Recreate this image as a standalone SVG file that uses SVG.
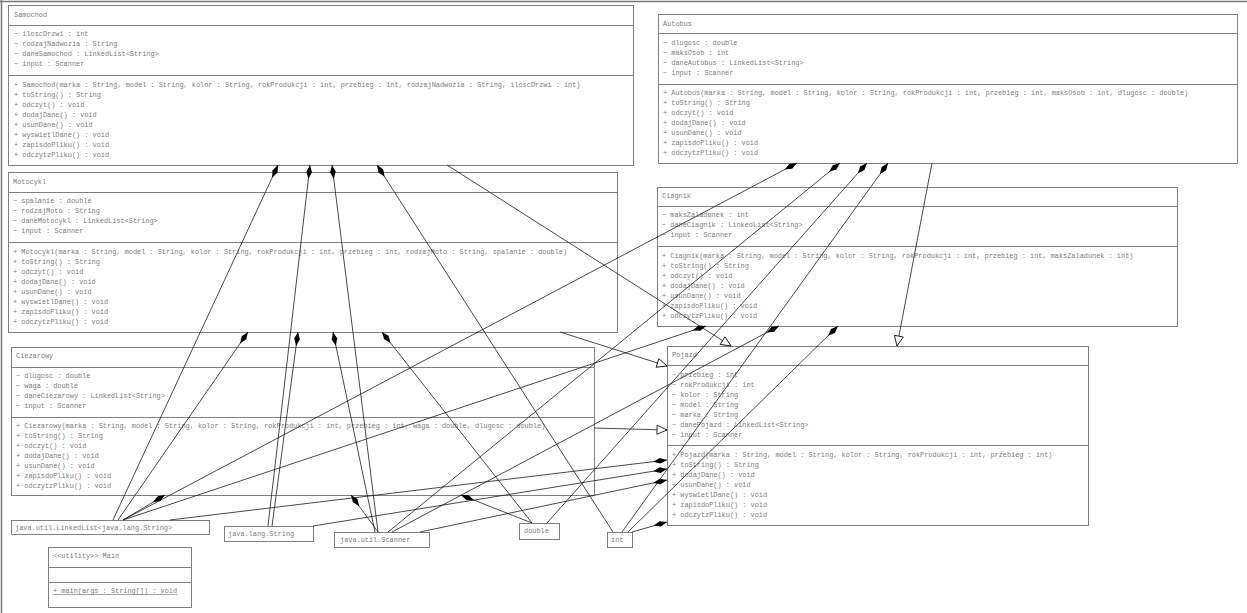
<svg xmlns="http://www.w3.org/2000/svg" width="1247" height="613" viewBox="0 0 1247 613">
  <style>
    .box { fill: #fff; stroke: #808080; stroke-width: 1; }
    .sep { stroke: #808080; stroke-width: 1; }
    .t { font-family: "Liberation Mono", "DejaVu Sans Mono", monospace; font-size: 6.9px; fill: #7c7c7c; }
    .u { text-decoration: underline; }
    .comp { fill: none; stroke: #1a1a1a; stroke-width: 0.8; marker-start: url(#diamond); }
    .gen { fill: none; stroke: #1a1a1a; stroke-width: 0.8; marker-end: url(#triangle); }
  </style>
  <defs>
    <!-- filled diamond at the owning class end -->
    <marker id="diamond" viewBox="-1 -4 16 8" refX="0" refY="0" markerWidth="16" markerHeight="8" markerUnits="userSpaceOnUse" orient="auto">
      <path d="M0,0 L7,-2.8 L14,0 L7,2.8 z" fill="#000"/>
    </marker>
    <!-- hollow triangle at the superclass end -->
    <marker id="triangle" viewBox="-1 -6 12 12" refX="10" refY="0" markerWidth="12" markerHeight="12" markerUnits="userSpaceOnUse" orient="auto">
      <path d="M0,-4.5 L10,0 L0,4.5 z" fill="#fff" stroke="#000" stroke-width="0.8"/>
    </marker>
  </defs>

  <rect width="1247" height="613" fill="#fff"/>
  <!-- canvas frame -->
  <line x1="0" y1="1.5" x2="1247" y2="1.5" stroke="#777" stroke-width="1.5"/>
  <line x1="1.5" y1="0" x2="1.5" y2="613" stroke="#777" stroke-width="1.5"/>

  <g id="samochod">
    <rect class="box" x="8.5" y="5.5" width="625" height="160"/>
    <line class="sep" x1="8.5" y1="25.5" x2="633.5" y2="25.5"/>
    <line class="sep" x1="8.5" y1="75.5" x2="633.5" y2="75.5"/>
    <text class="t" x="14" y="17">Samochod</text>
    <text class="t" x="14" y="36">~ iloscDrzwi : int</text>
    <text class="t" x="14" y="46">~ rodzajNadwozia : String</text>
    <text class="t" x="14" y="56">~ daneSamochod : LinkedList&lt;String&gt;</text>
    <text class="t" x="14" y="66">~ input : Scanner</text>
    <text class="t" x="14" y="87">+ Samochod(marka : String, model : String, kolor : String, rokProdukcji : int, przebieg : int, rodzajNadwozia : String, iloscDrzwi : int)</text>
    <text class="t" x="14" y="97">+ toString() : String</text>
    <text class="t" x="14" y="107">+ odczyt() : void</text>
    <text class="t" x="14" y="117">+ dodajDane() : void</text>
    <text class="t" x="14" y="127">+ usunDane() : void</text>
    <text class="t" x="14" y="137">+ wyswietlDane() : void</text>
    <text class="t" x="14" y="147">+ zapisdoPliku() : void</text>
    <text class="t" x="14" y="157">+ odczytzPliku() : void</text>
  </g>

  <g id="autobus">
    <rect class="box" x="658.5" y="14.5" width="579" height="149"/>
    <line class="sep" x1="658.5" y1="33.5" x2="1237.5" y2="33.5"/>
    <line class="sep" x1="658.5" y1="84.5" x2="1237.5" y2="84.5"/>
    <text class="t" x="663" y="26">Autobus</text>
    <text class="t" x="663" y="45">~ dlugosc : double</text>
    <text class="t" x="663" y="55">~ maksOsob : int</text>
    <text class="t" x="663" y="65">~ daneAutobus : LinkedList&lt;String&gt;</text>
    <text class="t" x="663" y="75">~ input : Scanner</text>
    <text class="t" x="663" y="95">+ Autobus(marka : String, model : String, kolor : String, rokProdukcji : int, przebieg : int, maksOsob : int, dlugosc : double)</text>
    <text class="t" x="663" y="105">+ toString() : String</text>
    <text class="t" x="663" y="115">+ odczyt() : void</text>
    <text class="t" x="663" y="125">+ dodajDane() : void</text>
    <text class="t" x="663" y="135">+ usunDane() : void</text>
    <text class="t" x="663" y="145">+ zapisdoPliku() : void</text>
    <text class="t" x="663" y="155">+ odczytzPliku() : void</text>
  </g>

  <g id="motocykl">
    <rect class="box" x="8.5" y="172.5" width="609" height="160"/>
    <line class="sep" x1="8.5" y1="192.5" x2="617.5" y2="192.5"/>
    <line class="sep" x1="8.5" y1="242.5" x2="617.5" y2="242.5"/>
    <text class="t" x="13" y="184">Motocykl</text>
    <text class="t" x="13" y="203">~ spalanie : double</text>
    <text class="t" x="13" y="213">~ rodzajMoto : String</text>
    <text class="t" x="13" y="223">~ daneMotocykl : LinkedList&lt;String&gt;</text>
    <text class="t" x="13" y="233">~ input : Scanner</text>
    <text class="t" x="13" y="254">+ Motocykl(marka : String, model : String, kolor : String, rokProdukcji : int, przebieg : int, rodzajMoto : String, spalanie : double)</text>
    <text class="t" x="13" y="264">+ toString() : String</text>
    <text class="t" x="13" y="274">+ odczyt() : void</text>
    <text class="t" x="13" y="284">+ dodajDane() : void</text>
    <text class="t" x="13" y="294">+ usunDane() : void</text>
    <text class="t" x="13" y="304">+ wyswietlDane() : void</text>
    <text class="t" x="13" y="314">+ zapisdoPliku() : void</text>
    <text class="t" x="13" y="324">+ odczytzPliku() : void</text>
  </g>

  <g id="ciagnik">
    <rect class="box" x="657.5" y="187.5" width="520" height="139"/>
    <line class="sep" x1="657.5" y1="206.5" x2="1177.5" y2="206.5"/>
    <line class="sep" x1="657.5" y1="246.5" x2="1177.5" y2="246.5"/>
    <text class="t" x="662" y="198">Ciagnik</text>
    <text class="t" x="662" y="217">~ maksZaladunek : int</text>
    <text class="t" x="662" y="227">~ daneCiagnik : LinkedList&lt;String&gt;</text>
    <text class="t" x="662" y="237">~ input : Scanner</text>
    <text class="t" x="662" y="258">+ Ciagnik(marka : String, model : String, kolor : String, rokProdukcji : int, przebieg : int, maksZaladunek : int)</text>
    <text class="t" x="662" y="268">+ toString() : String</text>
    <text class="t" x="662" y="278">+ odczyt() : void</text>
    <text class="t" x="662" y="288">+ dodajDane() : void</text>
    <text class="t" x="662" y="298">+ usunDane() : void</text>
    <text class="t" x="662" y="308">+ zapisdoPliku() : void</text>
    <text class="t" x="662" y="318">+ odczytzPliku() : void</text>
  </g>

  <g id="ciezarowy">
    <rect class="box" x="11.5" y="347.5" width="583" height="148"/>
    <line class="sep" x1="11.5" y1="367.5" x2="594.5" y2="367.5"/>
    <line class="sep" x1="11.5" y1="417.5" x2="594.5" y2="417.5"/>
    <text class="t" x="16" y="358">Ciezarowy</text>
    <text class="t" x="16" y="378">~ dlugosc : double</text>
    <text class="t" x="16" y="388">~ waga : double</text>
    <text class="t" x="16" y="398">~ daneCiezarowy : LinkedList&lt;String&gt;</text>
    <text class="t" x="16" y="408">~ input : Scanner</text>
    <text class="t" x="16" y="428">+ Ciezarowy(marka : String, model : String, kolor : String, rokProdukcji : int, przebieg : int, waga : double, dlugosc : double)</text>
    <text class="t" x="16" y="438">+ toString() : String</text>
    <text class="t" x="16" y="448">+ odczyt() : void</text>
    <text class="t" x="16" y="458">+ dodajDane() : void</text>
    <text class="t" x="16" y="468">+ usunDane() : void</text>
    <text class="t" x="16" y="478">+ zapisdoPliku() : void</text>
    <text class="t" x="16" y="488">+ odczytzPliku() : void</text>
  </g>

  <g id="pojazd">
    <rect class="box" x="667.5" y="346.5" width="421" height="179"/>
    <line class="sep" x1="667.5" y1="365.5" x2="1088.5" y2="365.5"/>
    <line class="sep" x1="667.5" y1="445.5" x2="1088.5" y2="445.5"/>
    <text class="t" x="672" y="357">Pojazd</text>
    <text class="t" x="672" y="377">~ przebieg : int</text>
    <text class="t" x="672" y="387">~ rokProdukcji : int</text>
    <text class="t" x="672" y="397">~ kolor : String</text>
    <text class="t" x="672" y="407">~ model : String</text>
    <text class="t" x="672" y="417">~ marka : String</text>
    <text class="t" x="672" y="427">~ danePojazd : LinkedList&lt;String&gt;</text>
    <text class="t" x="672" y="437">~ input : Scanner</text>
    <text class="t" x="672" y="457">+ Pojazd(marka : String, model : String, kolor : String, rokProdukcji : int, przebieg : int)</text>
    <text class="t" x="672" y="467">+ toString() : String</text>
    <text class="t" x="672" y="477">+ dodajDane() : void</text>
    <text class="t" x="672" y="487">+ usunDane() : void</text>
    <text class="t" x="672" y="497">+ wyswietlDane() : void</text>
    <text class="t" x="672" y="507">+ zapisdoPliku() : void</text>
    <text class="t" x="672" y="517">+ odczytzPliku() : void</text>
  </g>

  <g id="linkedlist">
    <rect class="box" x="11.5" y="520.5" width="198" height="14"/>
    <text class="t" x="15" y="530">java.util.LinkedList&lt;java.lang.String&gt;</text>
  </g>
  <g id="string">
    <rect class="box" x="224.5" y="526.5" width="89" height="15"/>
    <text class="t" x="228" y="536">java.lang.String</text>
  </g>
  <g id="scanner">
    <rect class="box" x="334.5" y="532.5" width="95" height="15"/>
    <text class="t" x="340" y="542">java.util.Scanner</text>
  </g>
  <g id="double">
    <rect class="box" x="519.5" y="523.5" width="40" height="16"/>
    <text class="t" x="524" y="533">double</text>
  </g>
  <g id="int">
    <rect class="box" x="607.5" y="532.5" width="25" height="15"/>
    <text class="t" x="611" y="542">int</text>
  </g>

  <g id="main">
    <rect class="box" x="48.5" y="547.5" width="143" height="60"/>
    <line class="sep" x1="48.5" y1="567.5" x2="191.5" y2="567.5"/>
    <line class="sep" x1="48.5" y1="582.5" x2="191.5" y2="582.5"/>
    <text class="t" x="53" y="558">&lt;&lt;utility&gt;&gt; Main</text>
    <text class="t u" x="53" y="593">+ main(args : String[]) : void</text>
  </g>

  <g id="connectors">
    <!-- compositions: Samochod -->
    <path class="comp" d="M278,165 L113,520"/>
    <path class="comp" d="M310,165 L268,526"/>
    <path class="comp" d="M332,165 L378,532"/>
    <path class="comp" d="M377,165 L613,532"/>
    <!-- compositions: Motocykl -->
    <path class="comp" d="M248,332 L118,520"/>
    <path class="comp" d="M298,332 L272,526"/>
    <path class="comp" d="M333,332 L375,532"/>
    <path class="comp" d="M382,332 L532,523"/>
    <!-- compositions: Ciezarowy -->
    <path class="comp" d="M165,495 L123,520"/>
    <path class="comp" d="M351,495 L378,532"/>
    <path class="comp" d="M461,495 L532,523"/>
    <!-- compositions: Ciagnik -->
    <path class="comp" d="M706,326 L123,520"/>
    <path class="comp" d="M779,326 L392,532"/>
    <path class="comp" d="M838,326 L628,532"/>
    <!-- compositions: Autobus -->
    <path class="comp" d="M797,163 L123,520"/>
    <path class="comp" d="M840,163 L388,532"/>
    <path class="comp" d="M867,163 L547,523"/>
    <path class="comp" d="M888,163 L622,532"/>
    <!-- compositions: Pojazd -->
    <path class="comp" d="M667,460 L170,520"/>
    <path class="comp" d="M667,469 L313,526"/>
    <path class="comp" d="M667,480 L420,532"/>
    <path class="comp" d="M667,522 L632,532"/>
    <!-- generalizations to Pojazd -->
    <path class="gen" d="M447,165 L731,346"/>
    <path class="gen" d="M560,332 L667,366"/>
    <path class="gen" d="M594,428 L667,430"/>
    <path class="gen" d="M932,163 L897,346"/>
  </g>
</svg>
